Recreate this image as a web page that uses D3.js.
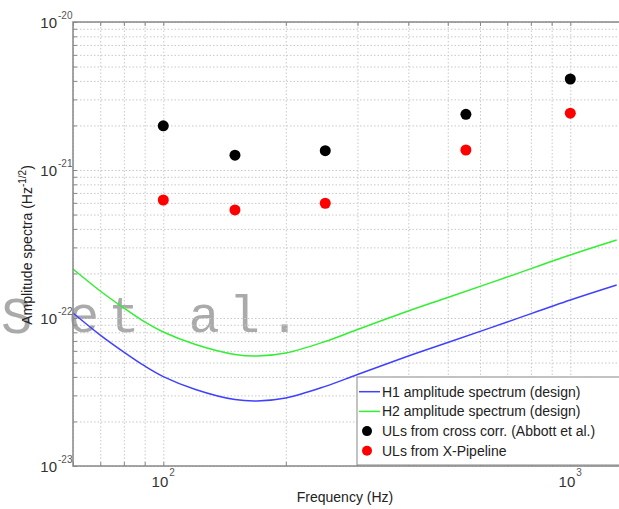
<!DOCTYPE html>
<html>
<head>
<meta charset="utf-8">
<script src="https://cdn.jsdelivr.net/npm/d3@7"></script>
<style>
  body { margin: 0; background: #fff; }
  svg { display: block; font-family: "Liberation Sans", Arial, sans-serif; }
  .grid line { stroke: #c8c8c8; stroke-dasharray: 1.5,2; }
  .grid .domain { display: none; }
  .ticks line { stroke: #888; }
  .ticks .domain { display: none; }
</style>
</head>
<body>
<div class="chart"></div>
<script>
var freqs = [60, 70, 80, 90, 100, 120, 150, 170, 200, 250, 300, 400, 500, 700, 1000, 1300];
var h1Amp = [1.081e-22, 7.67e-23, 5.89e-23, 4.74e-23, 4.02e-23, 3.29e-23, 2.81e-23, 2.75e-23,
             2.88e-23, 3.45e-23, 4.15e-23, 5.53e-23, 6.83e-23, 9.40e-23, 1.323e-22, 1.671e-22];
var h2Amp = [2.143e-22, 1.522e-22, 1.168e-22, 9.40e-23, 8.04e-23, 6.62e-23, 5.67e-23, 5.53e-23,
             5.80e-23, 6.94e-23, 8.36e-23, 1.115e-22, 1.375e-22, 1.892e-22, 2.666e-22, 3.365e-22];

// Upper limits
var ulFreqs = [100, 150, 250, 554, 1000];
var ulCrossCorr = [1.99e-21, 1.26e-21, 1.35e-21, 2.38e-21, 4.12e-21];
var ulXPipeline = [6.27e-22, 5.37e-22, 5.96e-22, 1.365e-21, 2.42e-21];

var xMajor = [100, 1000];
var xMinor = [60, 70, 80, 90, 100, 200, 300, 400, 500, 600, 700, 800, 900, 1000];
var yMajor = [1e-23, 1e-22, 1e-21, 1e-20];

var legendLabels = ["H1 amplitude spectrum (design)", "H2 amplitude spectrum (design)",
                    "ULs from cross corr. (Abbott et al.)", "ULs from X-Pipeline"];

var width = 619, height = 509;
var plotLeft = 73, plotTop = 22, plotBottom = 466;

var x = d3.scaleLog().domain([60, 1400]).range([plotLeft, plotLeft + 407 * Math.log10(1400 / 60)]);
var y = d3.scaleLog().domain([1e-23, 1e-20]).range([plotBottom, plotTop]);
var plotRight = x.range()[1];

var yMinor = [];
[-23, -22, -21].forEach(function(e) {
  for (var k = 1; k < 10; k++) yMinor.push(k * Math.pow(10, e));
});
yMinor.push(1e-20);

var svg = d3.select(".chart").append("svg")
  .attr("width", width)
  .attr("height", height);

// watermark
svg.append("text")
  .attr("x", 16.5).attr("y", 333)
  .attr("text-anchor", "middle")
  .style("font-family", "'Liberation Mono', monospace")
  .style("font-size", "52px")
  .attr("fill", "#aaa")
  .text("S");
svg.append("text")
  .attr("x", 68).attr("y", 332)
  .style("font-family", "'Liberation Mono', monospace")
  .style("font-size", "52px")
  .style("letter-spacing", "9px")
  .attr("fill", "#aaa")
  .text("et al.");

// grid
svg.append("g").attr("class", "grid")
  .attr("transform", "translate(0," + plotBottom + ")")
  .call(d3.axisBottom(x).tickValues(xMinor).tickSize(-(plotBottom - plotTop)).tickFormat(""));
svg.append("g").attr("class", "grid")
  .attr("transform", "translate(" + plotLeft + ",0)")
  .call(d3.axisLeft(y).tickValues(yMinor).tickSize(-(plotRight - plotLeft)).tickFormat(""));

// ticks on all visible sides
svg.append("g").attr("class", "ticks")
  .attr("transform", "translate(0," + plotBottom + ")")
  .call(d3.axisBottom(x).tickValues(xMinor).tickSize(-4).tickFormat(""));
svg.append("g").attr("class", "ticks")
  .attr("transform", "translate(0," + plotTop + ")")
  .call(d3.axisTop(x).tickValues(xMinor).tickSize(-4).tickFormat(""));
svg.append("g").attr("class", "ticks")
  .attr("transform", "translate(" + plotLeft + ",0)")
  .call(d3.axisLeft(y).tickValues(yMinor).tickSize(-4).tickFormat(""));

// curves
var line = d3.line()
  .x(function(d) { return x(d[0]); })
  .y(function(d) { return y(d[1]); })
  .curve(d3.curveCatmullRom.alpha(0.5));

svg.append("path")
  .datum(d3.zip(freqs, h1Amp))
  .attr("d", line)
  .attr("fill", "none")
  .attr("stroke", "#4040ff")
  .attr("stroke-width", 1.5);
svg.append("path")
  .datum(d3.zip(freqs, h2Amp))
  .attr("d", line)
  .attr("fill", "none")
  .attr("stroke", "#33ee33")
  .attr("stroke-width", 1.5);

svg.append("g").selectAll("circle")
  .data(d3.zip(ulFreqs, ulCrossCorr))
  .enter().append("circle")
    .attr("cx", function(d) { return x(d[0]); })
    .attr("cy", function(d) { return y(d[1]); })
    .attr("r", 5.5)
    .attr("fill", "#000");
svg.append("g").selectAll("circle")
  .data(d3.zip(ulFreqs, ulXPipeline))
  .enter().append("circle")
    .attr("cx", function(d) { return x(d[0]); })
    .attr("cy", function(d) { return y(d[1]); })
    .attr("r", 5.5)
    .attr("fill", "#ff0000");

// legend
var lg = svg.append("g").attr("transform", "translate(357,377)");
lg.append("rect")
  .attr("width", 320).attr("height", 88)
  .attr("fill", "#fff")
  .attr("stroke", "#888");
legendLabels.forEach(function(t, i) {
  var ly = 14.7 + i * 19.7;
  if (i < 2) {
    lg.append("line")
      .attr("x1", 2).attr("x2", 23).attr("y1", ly).attr("y2", ly)
      .attr("stroke", i == 0 ? "#4040ff" : "#33ee33")
      .attr("stroke-width", 1.5);
  } else {
    lg.append("circle")
      .attr("cx", 10).attr("cy", ly).attr("r", 5)
      .attr("fill", i == 2 ? "#000" : "#ff0000");
  }
  lg.append("text")
    .attr("x", 25).attr("y", ly + 5)
    .style("font-size", "14px")
    .attr("fill", "#222")
    .text(t);
});

// frame
svg.append("path")
  .attr("d", "M" + plotRight + "," + plotTop + "H" + plotLeft + "V" + plotBottom + "H" + plotRight)
  .attr("fill", "none")
  .attr("stroke", "#888")
  .attr("stroke-width", 1.5);

// tick labels
svg.append("g").selectAll("text")
  .data(yMajor)
  .enter().append("text")
    .attr("x", 57)
    .attr("y", function(d) { return y(d) + 6; })
    .attr("text-anchor", "end")
    .style("font-size", "15px")
    .attr("fill", "#333")
    .text("10");
svg.append("g").selectAll("text")
  .data(yMajor)
  .enter().append("text")
    .attr("x", 58)
    .attr("y", function(d) { return y(d) - 3; })
    .style("font-size", "10px")
    .attr("fill", "#555")
    .text(function(d) { return Math.round(Math.log10(d)); });

svg.append("g").selectAll("text")
  .data(xMajor)
  .enter().append("text")
    .attr("x", function(d) { return x(d) + 5; })
    .attr("y", 487)
    .attr("text-anchor", "end")
    .style("font-size", "15px")
    .attr("fill", "#333")
    .text("10");
svg.append("g").selectAll("text")
  .data(xMajor)
  .enter().append("text")
    .attr("x", function(d) { return x(d) + 6; })
    .attr("y", 476)
    .style("font-size", "10px")
    .attr("fill", "#555")
    .text(function(d) { return Math.round(Math.log10(d)); });

// axis titles
svg.append("text")
  .attr("x", 345).attr("y", 502)
  .attr("text-anchor", "middle")
  .style("font-size", "14px")
  .attr("fill", "#222")
  .text("Frequency (Hz)");

var yt = svg.append("text")
  .attr("transform", "translate(32,245) rotate(-90)")
  .attr("text-anchor", "middle")
  .style("font-size", "14px")
  .attr("fill", "#222");
yt.append("tspan").text("Amplitude spectra (Hz");
yt.append("tspan").attr("dy", -6).style("font-size", "10px").text("-1/2");
yt.append("tspan").attr("dy", 6).text(")");
</script>
</body>
</html>
